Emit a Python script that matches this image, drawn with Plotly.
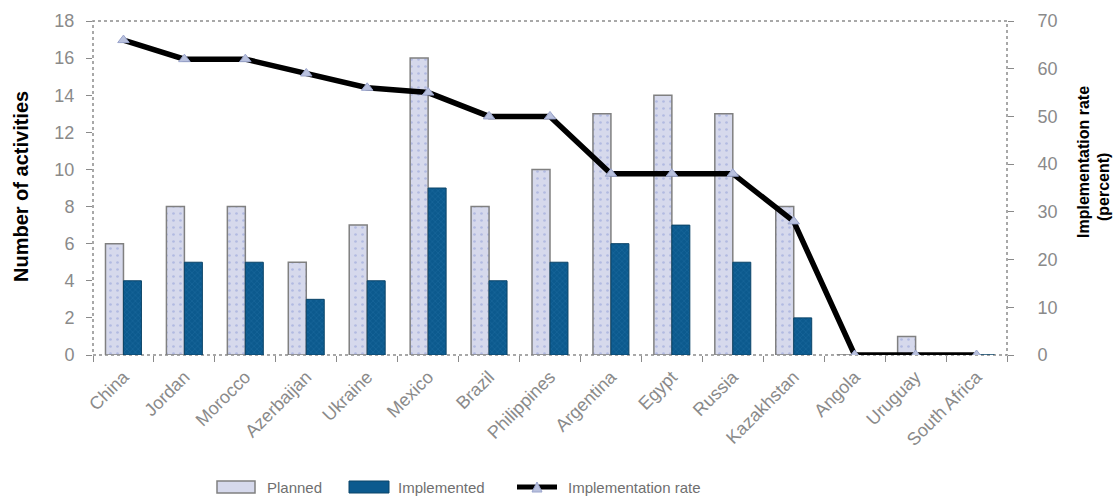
import plotly.graph_objects as go

# Data
countries = ["China", "Jordan", "Morocco", "Azerbaijan", "Ukraine", "Mexico", "Brazil",
             "Philippines", "Argentina", "Egypt", "Russia", "Kazakhstan", "Angola",
             "Uruguay", "South Africa"]
planned = [6, 8, 8, 5, 7, 16, 8, 10, 13, 14, 13, 8, 0, 1, 0]
implemented = [4, 5, 5, 3, 4, 9, 4, 5, 6, 7, 5, 2, 0, 0, 0]
impl_rate = [66, 62, 62, 59, 56, 55, 50, 50, 38, 38, 38, 28, 0, 0, 0]

left_ticks = list(range(0, 19, 2))
right_ticks = list(range(0, 71, 10))

FONT = "Liberation Sans, Arial, sans-serif"
GREY = "#8a8a8a"
PLANNED_FILL = "#d6d9ec"
IMPL_FILL = "#0c5a8e"
TRI_FILL = "#b9c1de"

# Plot area geometry (pixels)
W, H = 1118, 502
L, R, T, B = 93, 111, 21, 147
PW, PH = W - L - R, H - T - B


def px(x):
    return (x - L) / PW


def py(y):
    return (H - B - y) / PH


fig = go.Figure()

fig.add_trace(go.Bar(
    x=countries, y=planned, name="Planned",
    marker=dict(color=PLANNED_FILL,
                line=dict(color="#808080", width=1.5),
                pattern=dict(shape=".", fgcolor="#8d9bd6", bgcolor=PLANNED_FILL,
                             size=7, solidity=0.12)),
))
fig.add_trace(go.Bar(
    x=countries, y=implemented, name="Implemented",
    marker=dict(color=IMPL_FILL,
                line=dict(color="#0b4468", width=1),
                pattern=dict(shape="x", fgcolor="#2b78ab", bgcolor=IMPL_FILL,
                             size=4, solidity=0.25)),
))
fig.add_trace(go.Scatter(
    x=countries, y=impl_rate, name="Implementation rate", yaxis="y2",
    mode="lines+markers",
    line=dict(color="black", width=5.5),
    marker=dict(symbol="triangle-up", size=10, color=TRI_FILL,
                line=dict(color="#9aa4cc", width=1)),
))

shapes = [
    # dotted frame round the plotting area
    dict(type="rect", xref="paper", yref="paper", x0=0, x1=1, y0=0, y1=1,
         line=dict(color="#8c8c8c", width=1.5, dash="dot"), layer="below"),
    # legend keys
    dict(type="rect", xref="paper", yref="paper",
         x0=px(217), x1=px(255), y0=py(493), y1=py(481),
         fillcolor=PLANNED_FILL, line=dict(color="#808080", width=1.5)),
    dict(type="rect", xref="paper", yref="paper",
         x0=px(349), x1=px(389), y0=py(493), y1=py(481),
         fillcolor=IMPL_FILL, line=dict(color="#0b4468", width=1)),
    dict(type="line", xref="paper", yref="paper",
         x0=px(517), x1=px(557), y0=py(487), y1=py(487),
         line=dict(color="black", width=5)),
    dict(type="path", xref="paper", yref="paper",
         path=f"M {px(532)} {py(492)} L {px(542)} {py(492)} L {px(537)} {py(482)} Z",
         fillcolor=TRI_FILL, line=dict(color="#9aa4cc", width=1)),
]

annotations = [
    dict(text="Planned", xref="paper", yref="paper", x=px(265), y=py(487),
         xanchor="left", yanchor="middle", showarrow=False,
         font=dict(family=FONT, size=15, color="#6f6f6f")),
    dict(text="Implemented", xref="paper", yref="paper", x=px(396), y=py(487),
         xanchor="left", yanchor="middle", showarrow=False,
         font=dict(family=FONT, size=15, color="#6f6f6f")),
    dict(text="Implementation rate", xref="paper", yref="paper", x=px(566), y=py(487),
         xanchor="left", yanchor="middle", showarrow=False,
         font=dict(family=FONT, size=15, color="#6f6f6f")),
    # axis titles
    dict(text="<b>Number of activities</b>", xref="paper", yref="paper",
         x=px(21), y=py(187), textangle=-90, showarrow=False,
         xanchor="center", yanchor="middle",
         font=dict(family=FONT, size=20, color="black")),
    dict(text="<b>Implementation rate</b>", xref="paper", yref="paper",
         x=px(1083), y=py(162), textangle=-90, showarrow=False,
         xanchor="center", yanchor="middle",
         font=dict(family=FONT, size=16, color="black")),
    dict(text="<b>(percent)</b>", xref="paper", yref="paper",
         x=px(1103), y=py(187), textangle=-90, showarrow=False,
         xanchor="center", yanchor="middle",
         font=dict(family=FONT, size=16, color="black")),
]

fig.update_layout(
    width=W, height=H,
    margin=dict(l=L, r=R, t=T, b=B, autoexpand=False),
    paper_bgcolor="white", plot_bgcolor="white",
    font=dict(family=FONT, size=16, color=GREY),
    barmode="group", bargap=0.41, bargroupgap=0.0,
    showlegend=False,
    shapes=shapes, annotations=annotations,
    xaxis=dict(range=[-0.5, len(countries) - 0.5], automargin=False,
               showgrid=False, showline=False, zeroline=False,
               ticks="outside", tickson="boundaries", ticklen=6, tickcolor=GREY,
               ticklabelstandoff=7,
               tickangle=-45, tickfont=dict(family=FONT, size=18, color=GREY)),
    yaxis=dict(range=[0, 18], tickvals=left_ticks, showgrid=False, zeroline=False,
               showline=False, ticks="outside", ticklen=6, tickcolor=GREY,
               automargin=False, ticklabelstandoff=8,
               tickfont=dict(family=FONT, size=18, color=GREY)),
    yaxis2=dict(range=[0, 70], tickvals=right_ticks, overlaying="y", side="right",
                showgrid=False, zeroline=False, showline=False, automargin=False,
                ticks="outside", ticklen=6, tickcolor=GREY, ticklabelstandoff=20,
                tickfont=dict(family=FONT, size=18, color=GREY)),
)

fig.write_html("out.html")
